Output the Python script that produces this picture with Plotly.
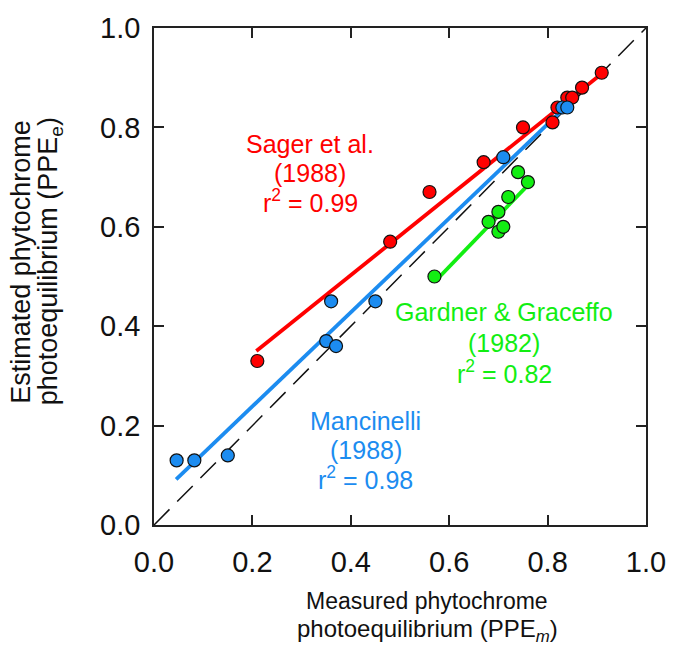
import plotly.graph_objects as go

# ---- data ----
sager_x = [0.21, 0.48, 0.56, 0.67, 0.75, 0.81, 0.82, 0.84, 0.85, 0.87, 0.91]
sager_y = [0.33, 0.57, 0.67, 0.73, 0.80, 0.81, 0.84, 0.86, 0.86, 0.88, 0.91]
sager_fit_x = [0.208, 0.906]
sager_fit_y = [0.350, 0.905]

manc_x = [0.046, 0.082, 0.15, 0.35, 0.37, 0.36, 0.45, 0.71, 0.83, 0.84]
manc_y = [0.13, 0.13, 0.14, 0.37, 0.36, 0.45, 0.45, 0.74, 0.84, 0.84]
manc_fit_x = [0.045, 0.825]
manc_fit_y = [0.092, 0.830]

gard_x = [0.57, 0.68, 0.70, 0.70, 0.71, 0.72, 0.74, 0.76]
gard_y = [0.50, 0.61, 0.63, 0.59, 0.60, 0.66, 0.71, 0.69]
gard_fit_x = [0.578, 0.762]
gard_fit_y = [0.497, 0.686]

one_to_one = [0.0, 1.0]
ticks = [0.0, 0.2, 0.4, 0.6, 0.8, 1.0]
tick_text = ["0.0", "0.2", "0.4", "0.6", "0.8", "1.0"]

RED = "#FF0000"
BLUE = "#1C8CF0"
GREEN = "#12EE12"
FONT = "Liberation Sans, Arial, sans-serif"

fig = go.Figure()

fig.add_trace(go.Scatter(x=one_to_one, y=one_to_one, mode="lines",
                         line=dict(color="#111111", width=1.5, dash="22px,11px"),
                         hoverinfo="skip"))
fig.add_trace(go.Scatter(x=sager_fit_x, y=sager_fit_y, mode="lines",
                         line=dict(color=RED, width=3.8)))
fig.add_trace(go.Scatter(x=manc_fit_x, y=manc_fit_y, mode="lines",
                         line=dict(color=BLUE, width=3.8)))
fig.add_trace(go.Scatter(x=gard_fit_x, y=gard_fit_y, mode="lines",
                         line=dict(color=GREEN, width=3.8)))

mk = lambda c: dict(size=13, color=c, line=dict(color="#111111", width=1.2))
fig.add_trace(go.Scatter(x=sager_x, y=sager_y, mode="markers", marker=mk(RED)))
fig.add_trace(go.Scatter(x=gard_x, y=gard_y, mode="markers", marker=mk(GREEN)))
fig.add_trace(go.Scatter(x=manc_x, y=manc_y, mode="markers", marker=mk(BLUE)))

def label(lines, x, ys, color):
    for t, y in zip(lines, ys):
        fig.add_annotation(x=x, y=y, xref="x", yref="y", text=t, showarrow=False,
                           font=dict(family=FONT, size=25, color=color),
                           xanchor="center", yanchor="middle")

label(["Sager et al.", "(1988)", "r<sup>2</sup> = 0.99"], 0.318, [0.766, 0.708, 0.652], RED)
label(["Gardner & Graceffo", "(1982)", "r<sup>2</sup> = 0.82"], 0.712, [0.428, 0.366, 0.308], GREEN)
label(["Mancinelli", "(1988)", "r<sup>2</sup> = 0.98"], 0.43, [0.21, 0.15, 0.094], BLUE)

# axis titles
fig.add_annotation(x=0.555, y=-0.152, xref="paper", yref="paper",
                   text="Measured phytochrome", showarrow=False,
                   font=dict(family=FONT, size=23, color="#111111"),
                   xanchor="center", yanchor="middle")
fig.add_annotation(x=0.555, y=-0.212, xref="paper", yref="paper",
                   text="photoequilibrium (PPE<sub><i>m</i></sub>)", showarrow=False,
                   font=dict(family=FONT, size=24, color="#111111"),
                   xanchor="center", yanchor="middle")
fig.add_annotation(x=-0.272, y=0.53, xref="paper", yref="paper",
                   text="Estimated phytochrome", showarrow=False, textangle=-90,
                   font=dict(family=FONT, size=27, color="#111111"),
                   xanchor="center", yanchor="middle")
fig.add_annotation(x=-0.212, y=0.53, xref="paper", yref="paper",
                   text="photoequilibrium (PPE<sub>e</sub>)", showarrow=False, textangle=-90,
                   font=dict(family=FONT, size=27, color="#111111"),
                   xanchor="center", yanchor="middle")

axis_common = dict(range=[0, 1], tickvals=ticks, ticktext=tick_text,
                   ticks="inside", ticklen=10, tickwidth=1.5, tickcolor="#222222",
                   showline=True, linecolor="#222222", linewidth=1.5, mirror="ticks",
                   showgrid=False, zeroline=False,
                   tickfont=dict(family=FONT, size=29, color="#111111"))

fig.update_xaxes(**axis_common, ticklabelstandoff=10)
fig.update_yaxes(**axis_common, ticklabelstandoff=6)

fig.update_layout(width=678, height=655,
                  margin=dict(l=154, r=25, t=25, b=130),
                  plot_bgcolor="white", paper_bgcolor="white",
                  showlegend=False)

fig.write_html("out.html")
